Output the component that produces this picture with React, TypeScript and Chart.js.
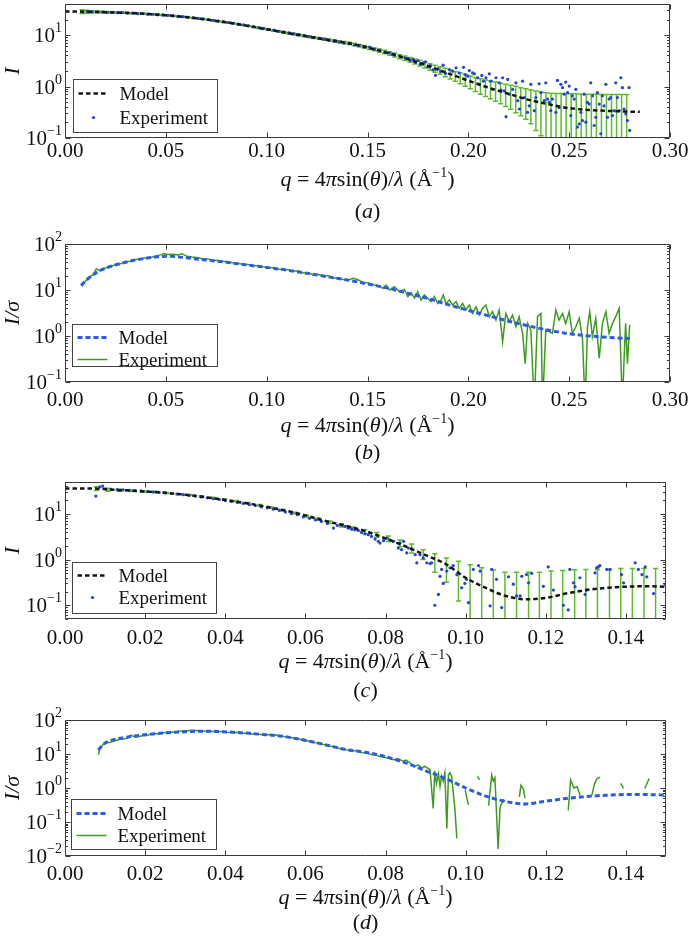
import React, { useEffect, useRef } from 'react';
import { Chart, registerables } from 'chart.js';

Chart.register(...registerables);

const FONT = "'Liberation Serif', 'Times New Roman', serif";
const DOT_BLUE = '#2444d2';
const DASH_BLUE = '#2a5ddf';
const ERR_GREEN = '#5cbb2e';
const LINE_GREEN = '#3d9b1e';
const BLACK = '#151515';

// ---------- tick values ----------
const xTicksAB = [0, 0.05, 0.1, 0.15, 0.2, 0.25, 0.3];
const xTicksCD = [0, 0.02, 0.04, 0.06, 0.08, 0.1, 0.12, 0.14];
const yDecadesA = [0.1, 1, 10];
const yDecadesB = [0.1, 1, 10, 100];
const yDecadesC = [0.1, 1, 10];
const yDecadesD = [0.01, 0.1, 1, 10, 100];

// ---------- panel (a): intensity ----------
const qModelA = [0, 0.008, 0.02, 0.03, 0.04, 0.05, 0.06, 0.07, 0.08, 0.09, 0.1, 0.11, 0.12, 0.13, 0.14, 0.15, 0.16, 0.17, 0.18, 0.19, 0.2, 0.21, 0.22, 0.23, 0.24, 0.25, 0.26, 0.27, 0.28, 0.285];
const iModelA = [28.6, 28.5, 27.8, 27.0, 25.8, 24.2, 22.3, 20.0, 17.6, 15.2, 12.9, 11.0, 9.4, 8.1, 7.0, 5.7, 4.5, 3.4, 2.5, 1.8, 1.3, 0.95, 0.72, 0.55, 0.45, 0.38, 0.35, 0.335, 0.325, 0.322];

const qExpA = [
  0.0085, 0.011, 0.0135, 0.016, 0.0185, 0.021, 0.0235, 0.026, 0.0285, 0.031,
  0.0335, 0.036, 0.0385, 0.041, 0.0435, 0.046, 0.0485, 0.051, 0.0535, 0.056,
  0.0585, 0.061, 0.0635, 0.066, 0.0685, 0.071, 0.0735, 0.076, 0.0785, 0.081,
  0.0835, 0.086, 0.0885, 0.091, 0.0935, 0.096, 0.0985, 0.101, 0.1035, 0.106,
  0.1085, 0.111, 0.1135, 0.116, 0.1185, 0.121, 0.1235, 0.126, 0.1285, 0.131,
  0.1335, 0.136, 0.1385, 0.141, 0.1435, 0.146, 0.1485, 0.151, 0.1535, 0.156,
  0.1585, 0.161, 0.1635, 0.166, 0.1685,
  0.17, 0.1712, 0.1725, 0.1737, 0.175, 0.1762, 0.1775, 0.1787, 0.18, 0.1812,
  0.1825, 0.1837, 0.185, 0.1862, 0.1875, 0.1887, 0.1906, 0.1922, 0.1939, 0.1955,
  0.1976, 0.1984, 0.1997, 0.2005, 0.2021, 0.203, 0.2046, 0.2054, 0.2067, 0.2075,
  0.2087, 0.2104, 0.2112, 0.212, 0.2137, 0.2153, 0.2162, 0.217, 0.2178, 0.2187,
  0.2195, 0.2203, 0.222, 0.2236, 0.2245, 0.2253, 0.2269, 0.2277, 0.2294, 0.2302,
  0.231, 0.2327, 0.2335, 0.2351, 0.236, 0.2376, 0.2384, 0.2393, 0.2401, 0.2409,
  0.2417, 0.2434, 0.2442, 0.245, 0.2459, 0.2467, 0.2475, 0.2483, 0.2492, 0.25,
  0.2508, 0.2516, 0.2525, 0.2533, 0.2541, 0.255, 0.2558, 0.2566, 0.2574, 0.2583,
  0.2591, 0.2599, 0.2607, 0.2616, 0.2624, 0.2632, 0.264, 0.2649, 0.2657, 0.2665,
  0.2673, 0.2682, 0.269, 0.2698, 0.2706, 0.2715, 0.2723, 0.2731, 0.2739, 0.2748,
  0.2756, 0.2764, 0.2772, 0.2781, 0.2789, 0.2797, 0.28,
];
const iExpA = [
  28.0, 28.8, 28.2, 28.0, 27.9, 27.4, 27.6, 27.1, 27.3, 26.6,
  26.5, 26.0, 26.1, 25.4, 25.3, 24.6, 24.5, 24.0, 23.6, 23.0,
  22.7, 22.1, 21.6, 21.0, 20.6, 19.9, 19.3, 18.7, 18.2, 17.5,
  16.9, 16.3, 15.8, 15.1, 14.6, 14.0, 13.5, 12.9, 12.5, 11.9,
  11.5, 11.0, 10.6, 10.2, 9.8, 9.3, 9.0, 8.6, 8.3, 7.9,
  7.6, 7.3, 7.0, 6.8, 6.4, 6.3, 5.9, 5.8, 5.3, 5.1,
  4.6, 4.5, 4.1, 3.9, 3.6,
  3.5, 3.2, 3.4, 2.95, 3.2, 2.7, 2.85, 3.0, 2.4, 2.55,
  2.1, 1.65, 2.2, 1.95, 2.6, 1.8, 2.13, 1.98, 2.3, 1.84,
  2.36, 1.71, 1.59, 2.04, 1.84, 1.76, 1.48, 1.1, 1.64, 1.27,
  1.48, 1.76, 1.27, 0.88, 1.48, 1.18, 0.85, 1.48, 0.82, 0.26,
  1.37, 0.71, 0.88, 1.18, 0.53, 0.366, 1.27, 0.61, 0.315, 0.42,
  1.1, 0.34, 0.61, 1.13, 0.76, 0.53, 1.18, 0.57, 0.49, 0.34,
  0.57, 0.315, 1.31, 0.39, 1.1, 0.95, 0.71, 1.22, 0.76, 1.02,
  0.272, 0.66, 0.57, 0.88, 0.163, 0.188, 0.315, 0.218, 0.71, 0.203,
  0.49, 0.455, 1.18, 0.66, 0.175, 0.253, 0.76, 0.455, 0.121, 0.66,
  0.42, 1.1, 0.253, 0.57, 0.61, 0.272, 0.34, 1.18, 0.61, 0.34,
  1.48, 0.95, 0.366, 0.293, 0.218, 0.95, 0.14,
];

const qErrA = [
  0.0085, 0.011, 0.0135, 0.016, 0.0185, 0.021, 0.0235, 0.026, 0.0285, 0.031,
  0.0335, 0.036, 0.0385, 0.041, 0.0435, 0.046, 0.0485, 0.051, 0.0535, 0.056,
  0.0585, 0.061, 0.0635, 0.066, 0.0685, 0.071, 0.0735, 0.076, 0.0785, 0.081,
  0.0835, 0.086, 0.0885, 0.091, 0.0935, 0.096, 0.0985, 0.101, 0.1035, 0.106,
  0.1085, 0.111, 0.1135, 0.116, 0.1185, 0.121, 0.1235, 0.126, 0.1285, 0.131,
  0.1335, 0.136, 0.1385, 0.141, 0.1435, 0.146, 0.1485, 0.151, 0.1535, 0.156,
  0.1585, 0.161, 0.1635, 0.166, 0.1685,
  0.171, 0.1735, 0.176, 0.1785, 0.181, 0.1835, 0.186, 0.1885, 0.191, 0.1935,
  0.196, 0.1985, 0.201, 0.2035, 0.206, 0.2085, 0.211, 0.2135, 0.216, 0.2185,
  0.221, 0.2235, 0.226, 0.2285, 0.231, 0.2335, 0.236, 0.2385, 0.241, 0.2435,
  0.246, 0.2485, 0.251, 0.2535, 0.256, 0.2585, 0.261, 0.2635, 0.266, 0.2685,
  0.271, 0.2735, 0.276, 0.2785,
];
const errLoA = [
  26.2, 26.55, 26.8, 26.9, 26.9, 26.8, 26.7, 26.6, 26.45, 26.3,
  26.0, 25.75, 25.5, 25.15, 24.75, 24.4, 24.0, 23.55, 23.05, 22.6,
  22.2, 21.65, 21.1, 20.55, 19.95, 19.35, 18.75, 18.15, 17.55, 16.95,
  16.35, 15.8, 15.2, 14.6, 14.0, 13.4, 12.85, 12.35, 11.85, 11.35,
  10.9, 10.45, 10.05, 9.65, 9.25, 8.92, 8.58, 8.25, 7.95, 7.65,
  7.35, 7.05, 6.8, 6.52, 6.2, 5.85, 5.55, 5.23, 4.92, 4.62,
  4.33, 4.04, 3.75, 3.45, 3.2,
  2.95, 2.72, 2.5, 2.28, 2.07, 1.89, 1.72, 1.55, 1.4, 1.26,
  1.13, 1.01, 0.9, 0.8, 0.71, 0.64, 0.58, 0.52, 0.46, 0.41,
  0.36, 0.31, 0.27, 0.23, 0.19, 0.14, 0.11, 0.08, 0.05, 0.001,
  0.001, 0.001, 0.001, 0.001, 0.001, 0.001, 0.001, 0.001, 0.001, 0.001,
  0.001, 0.001, 0.001, 0.001,
];
const errHiA = [
  30.8, 30.15, 29.6, 29.2, 28.9, 28.6, 28.3, 28.0, 27.75, 27.5,
  27.2, 26.85, 26.5, 26.15, 25.75, 25.3, 24.9, 24.45, 23.95, 23.5,
  23.0, 22.45, 21.9, 21.35, 20.75, 20.15, 19.55, 18.95, 18.35, 17.75,
  17.15, 16.5, 15.9, 15.3, 14.7, 14.1, 13.55, 13.05, 12.55, 12.05,
  11.6, 11.15, 10.75, 10.35, 9.95, 9.62, 9.28, 8.95, 8.65, 8.35,
  8.05, 7.75, 7.5, 7.22, 6.9, 6.55, 6.25, 5.93, 5.62, 5.32,
  5.03, 4.74, 4.45, 4.15, 3.9,
  3.65, 3.42, 3.2, 2.98, 2.77, 2.59, 2.42, 2.25, 2.1, 1.96,
  1.83, 1.71, 1.6, 1.5, 1.41, 1.34, 1.28, 1.22, 1.16, 1.11,
  1.06, 1.01, 0.95, 0.9, 0.86, 0.82, 0.78, 0.76, 0.74, 0.73,
  0.73, 0.72, 0.72, 0.72, 0.71, 0.71, 0.71, 0.71, 0.7, 0.7,
  0.7, 0.7, 0.7, 0.7,
];

// ---------- panel (b): I / sigma ----------
const qModelB = [0.008, 0.01, 0.015, 0.02, 0.025, 0.03, 0.035, 0.04, 0.045, 0.05, 0.055, 0.06, 0.07, 0.08, 0.09, 0.1, 0.11, 0.12, 0.13, 0.14, 0.15, 0.16, 0.17, 0.18, 0.19, 0.2, 0.21, 0.22, 0.23, 0.24, 0.25, 0.26, 0.27, 0.28];
const vModelB = [12.5, 15.5, 23, 29.5, 35, 40, 45, 49, 52, 54, 53, 50, 45, 40, 35, 31, 27, 23, 19.5, 16.5, 13.5, 11.0, 8.5, 6.5, 4.8, 3.6, 2.75, 2.1, 1.65, 1.33, 1.12, 1.0, 0.93, 0.88];

const qExpB = [
  0.0085, 0.0095, 0.011, 0.0125, 0.014, 0.0155, 0.017, 0.0185, 0.02,
  0.0225, 0.025, 0.0275, 0.03, 0.0325, 0.035, 0.0375, 0.04, 0.0425, 0.045,
  0.0475, 0.049, 0.051, 0.0535, 0.056, 0.058, 0.0605, 0.063, 0.0655, 0.068,
  0.0705, 0.073, 0.0755, 0.078, 0.0805, 0.083, 0.0855, 0.088, 0.0905, 0.093,
  0.0955, 0.098, 0.1005, 0.103, 0.1055, 0.108, 0.1105, 0.113, 0.1155, 0.118,
  0.1205, 0.123, 0.1255, 0.128, 0.1305, 0.133, 0.1355, 0.138, 0.1405, 0.143,
  0.1455, 0.148, 0.1505, 0.153,
  0.1559, 0.1576, 0.1592, 0.1609, 0.1634, 0.1658, 0.1683, 0.17, 0.1716, 0.1733,
  0.1749, 0.1766, 0.1782, 0.1799, 0.1815, 0.1832, 0.1848, 0.1865, 0.1876, 0.1889,
  0.1906, 0.1922, 0.1939, 0.1955, 0.1972, 0.1988, 0.2005, 0.2021, 0.2038, 0.2054,
  0.2071, 0.2087, 0.2104, 0.212, 0.2137, 0.2153, 0.217, 0.2186, 0.2203, 0.2219,
  0.2236, 0.2252, 0.2269, 0.2282, 0.2294, 0.231, 0.2327, 0.2343, 0.236, 0.2368,
  0.2384, 0.2401, 0.2417, 0.2434, 0.245, 0.2467, 0.2483, 0.25, 0.2516, 0.2533,
  0.255, 0.2566, 0.2579, 0.2591, 0.2602, 0.2615, 0.2632, 0.2649, 0.2665, 0.2682,
  0.2698, 0.2715, 0.2731, 0.2748, 0.2764, 0.2772, 0.278, 0.2789, 0.28,
];
const vExpB = [
  12.0, 14.5, 17.0, 19.5, 21.5, 29, 26.5, 29, 30,
  32.5, 35.5, 37, 41, 42, 46, 47, 50, 51, 55,
  58, 62, 59, 60, 58, 61, 54, 52, 51, 48,
  47, 45, 44, 42, 41, 39, 38, 36.5, 36, 34,
  33.5, 32, 31, 30.5, 28.5, 28, 27.5, 25.5, 26, 23.5,
  24, 21.5, 22, 20, 20.5, 18, 18.5, 17, 16.5, 18,
  16.5, 14.5, 14.2, 13.0,
  12.2, 10.9, 12.8, 10.0, 11.8, 9.2, 10.3, 7.2, 8.7, 6.6,
  9.2, 6.05, 7.8, 6.6, 5.6, 7.2, 5.1, 6.05, 7.8, 4.96,
  6.05, 4.7, 5.6, 4.0, 5.1, 3.67, 4.7, 3.1, 4.3, 2.86,
  4.0, 4.7, 2.63, 3.38, 2.22, 3.67, 0.75, 3.1, 2.05, 2.86,
  1.59, 2.63, 1.14, 0.25, 1.88, 1.35, 0.03, 2.63, 3.1, 0.03,
  1.35, 1.24, 1.14, 3.67, 2.22, 3.1, 1.88, 3.38, 1.14, 1.59,
  2.42, 0.89, 0.03, 1.59, 3.38, 0.97, 2.42, 0.33, 1.88, 3.38,
  1.14, 1.88, 2.63, 4.0, 0.03, 0.3, 1.88, 0.25, 1.73,
];

// ---------- panel (c): intensity ----------
const qModelC = [0, 0.008, 0.012, 0.016, 0.02, 0.025, 0.03, 0.035, 0.04, 0.045, 0.05, 0.055, 0.06, 0.065, 0.07, 0.075, 0.08, 0.085, 0.09, 0.095, 0.1, 0.105, 0.11, 0.115, 0.12, 0.125, 0.13, 0.135, 0.14, 0.145, 0.15];
const iModelC = [36, 35.8, 34, 32.5, 31.0, 29, 26.3, 23.3, 20.2, 17.3, 14.5, 11.8, 9.3, 7.0, 5.5, 4.2, 2.9, 1.95, 1.25, 0.8, 0.4, 0.24, 0.16, 0.135, 0.145, 0.18, 0.215, 0.24, 0.255, 0.26, 0.255];

const qExpC = [
  0.0077, 0.0087, 0.0094, 0.0102, 0.0115, 0.013, 0.0145, 0.016, 0.0175, 0.019,
  0.0205, 0.022, 0.0235, 0.025, 0.0265, 0.028, 0.0295, 0.031, 0.0325, 0.034,
  0.0355, 0.037, 0.0385, 0.04, 0.0415, 0.043, 0.0445, 0.046, 0.0475, 0.049,
  0.0505, 0.052, 0.0535, 0.055, 0.0565, 0.058, 0.0595, 0.061, 0.0625, 0.064,
  0.0655, 0.067, 0.068,
  0.0691, 0.0699, 0.0707, 0.0715, 0.0724, 0.0732, 0.074, 0.0749, 0.0757, 0.0765,
  0.0774, 0.0782, 0.0786, 0.0795, 0.0803, 0.0811, 0.082, 0.0832, 0.0836, 0.084,
  0.0845, 0.0853, 0.0857, 0.0865, 0.0874, 0.0878, 0.0886, 0.0894, 0.0903, 0.0911,
  0.0915, 0.0923, 0.0932, 0.0936, 0.094, 0.0944, 0.0953, 0.0961, 0.0969, 0.0978,
  0.099, 0.0998, 0.1002, 0.1007, 0.1019, 0.1032, 0.1036, 0.1061, 0.1065, 0.1077,
  0.109, 0.1107, 0.1119, 0.1127, 0.1136, 0.114, 0.1152, 0.1157, 0.1165, 0.1194,
  0.1206, 0.1219, 0.1244, 0.1256, 0.126, 0.1269, 0.1273, 0.1285, 0.1298, 0.1302,
  0.1323, 0.1327, 0.1331, 0.1335, 0.1352, 0.136, 0.1389, 0.1394, 0.1423, 0.1431,
  0.144, 0.1448, 0.1452, 0.1469, 0.1498,
];
const iExpC = [
  24.6, 39.0, 40.8, 35.0, 34.5, 34.0, 33.6, 33.0, 32.4, 32.0,
  31.0, 30.5, 29.6, 29.0, 28.0, 27.3, 26.4, 25.6, 24.5, 23.5,
  22.6, 21.5, 20.8, 19.6, 18.8, 17.8, 17.0, 15.9, 15.2, 14.2,
  13.6, 12.7, 11.9, 11.0, 10.2, 9.6, 8.6, 8.0, 7.4, 6.8,
  6.2, 4.9, 5.6,
  5.77, 5.31, 4.88, 4.72, 4.49, 4.34, 3.93, 3.67, 3.5, 3.22,
  2.81, 2.51, 2.3, 2.59, 2.96, 2.72, 2.51, 1.79, 2.3, 1.65,
  2.51, 1.4, 1.79, 1.71, 1.28, 0.85, 1.28, 1.09, 0.85, 0.82,
  0.85, 0.1, 0.173, 0.43, 0.61, 0.3, 0.56, 0.66, 0.74, 0.47,
  0.242, 0.3, 0.37, 0.114, 0.61, 0.74, 0.56, 0.097, 0.61, 0.37,
  0.089, 0.42, 0.29, 0.16, 0.16, 0.43, 0.47, 0.31, 0.5, 0.26,
  0.69, 0.215, 0.1, 0.079, 0.61, 0.31, 0.255, 0.4, 0.173, 0.215,
  0.51, 0.66, 0.69, 0.74, 0.61, 0.61, 0.47, 0.31, 0.85, 0.61,
  0.47, 0.69, 0.42, 0.18, 0.29,
];

const qErrC = [
  0.0078, 0.0107, 0.0136, 0.0165, 0.0194, 0.0224, 0.0253, 0.0282, 0.0311, 0.034,
  0.0369, 0.0398, 0.0428, 0.0457, 0.0486, 0.0515, 0.0544, 0.0573, 0.0603, 0.0632,
  0.0661, 0.069, 0.0719, 0.0748, 0.0778, 0.0807, 0.0836, 0.0865, 0.0894, 0.0923,
  0.0952, 0.0982, 0.1011, 0.104, 0.1069, 0.1098, 0.1127, 0.1157, 0.1184, 0.1213,
  0.1242, 0.1272, 0.13, 0.1329, 0.1359, 0.1387, 0.1416, 0.1445, 0.1474,
];
const errLoC = [
  32.5, 31.5, 31.2, 30.8, 30.0, 29.0, 28.0, 26.6, 25.2, 23.7,
  22.0, 20.3, 18.6, 16.8, 15.0, 13.3, 11.7, 10.1, 8.6, 7.3,
  6.2, 5.2, 4.4, 3.7, 3.1, 2.5, 1.9, 1.4, 1.0, 0.53,
  0.32, 0.124, 0.02, 0.001, 0.001, 0.001, 0.001, 0.001, 0.001, 0.001,
  0.001, 0.001, 0.001, 0.001, 0.001, 0.001, 0.001, 0.001, 0.001,
];
const errHiC = [
  39.5, 36.5, 34.6, 33.4, 32.2, 30.8, 29.6, 28.0, 26.6, 25.0,
  23.2, 21.4, 19.6, 17.8, 16.0, 14.2, 12.5, 10.9, 9.4, 8.1,
  7.0, 6.0, 5.2, 4.5, 3.9, 3.3, 2.7, 2.2, 1.65, 1.35,
  1.09, 0.92, 0.77, 0.66, 0.59, 0.53, 0.53, 0.53, 0.53, 0.56,
  0.58, 0.6, 0.61, 0.61, 0.61, 0.64, 0.64, 0.64, 0.64,
];

// ---------- panel (d): I / sigma ----------
const qModelD = [0.0083, 0.0095, 0.011, 0.013, 0.016, 0.02, 0.025, 0.03, 0.034, 0.038, 0.042, 0.046, 0.05, 0.054, 0.058, 0.062, 0.066, 0.07, 0.075, 0.08, 0.085, 0.09, 0.095, 0.1, 0.105, 0.11, 0.115, 0.12, 0.125, 0.13, 0.135, 0.14, 0.145, 0.15];
const vModelD = [13, 19, 24, 28, 32, 37, 42, 45, 47, 46, 43.5, 40.5, 37, 33.5, 28, 22.5, 17.5, 13.5, 11.2, 8.3, 5.5, 3.2, 1.9, 1.0, 0.58, 0.4, 0.34, 0.41, 0.49, 0.56, 0.61, 0.64, 0.64, 0.62];

const qExpD = [
  0.0083, 0.0087, 0.0095, 0.0105, 0.0115, 0.0125, 0.0135, 0.0145, 0.0155, 0.0165,
  0.0175, 0.0185, 0.0195, 0.0205, 0.0215, 0.0225, 0.0235, 0.0245, 0.0255, 0.0265,
  0.0275, 0.0285, 0.0295, 0.0305, 0.0315, 0.0325, 0.0335, 0.0345, 0.0355, 0.0365,
  0.0375, 0.0385, 0.0395, 0.0405, 0.0415, 0.0425, 0.0435, 0.0445, 0.0455, 0.0465,
  0.0475, 0.0485, 0.0495, 0.0505, 0.0515, 0.0525, 0.0535, 0.0545, 0.0555, 0.0565,
  0.0575, 0.0585, 0.0595, 0.0605, 0.0615, 0.0625, 0.0635, 0.0645, 0.0655, 0.0665,
  0.0675, 0.0685, 0.0695, 0.0705, 0.0715, 0.0725, 0.0735, 0.0745, 0.0755, 0.0765,
  0.0775,
  0.0786, 0.0799, 0.0807, 0.0819, 0.0832, 0.0844, 0.0852, 0.0865, 0.0873, 0.0882,
  0.089, 0.0898, 0.0911, 0.0919, 0.0923, 0.0927, 0.0932, 0.0936, 0.094, 0.0944,
  0.0948, 0.0953, 0.0957, 0.0961, 0.0965, 0.0973, 0.0978, 0.0988, 0.0999, 0.1003,
  0.1007, 0.1018, 0.1029, 0.1035, 0.1046, 0.1057, 0.1065, 0.1069, 0.1073, 0.1081,
  0.1086, 0.1094, 0.1098, 0.1115, 0.1134, 0.1138, 0.1144, 0.1148, 0.12, 0.1256,
  0.1262, 0.127, 0.1278, 0.1286, 0.13, 0.1315, 0.1322, 0.1328, 0.1335, 0.136,
  0.1387, 0.1394, 0.142, 0.1447, 0.1458,
];
const vExpD: (number | null)[] = [
  9.5, 14, 19, 21.5, 22.5, 24.5, 26.5, 27.5, 29, 36,
  31, 32.5, 35, 35, 39, 40, 39, 42, 43, 43.5,
  44, 47, 48, 47.5, 50, 49, 48, 47.5, 46, 47,
  45.5, 45, 46.5, 44, 43, 43.5, 42, 41, 41.5, 39,
  39.5, 38, 37, 37.5, 36, 37, 34, 33, 31, 30.5,
  28, 27.5, 25, 24.5, 23, 21.5, 21, 19, 18.5, 16.5,
  16, 14.5, 14.2, 13, 12.5, 12.5, 11.5, 10.8, 10.5, 9.6,
  9.4,
  8.4, 7.9, 7.6, 6.8, 7.2, 6.1, 6.6, 5.0, 4.3, 4.8,
  3.9, 4.3, 3.5, 0.25, 3.2, 1.35, 2.6, 1.1, 2.2, 1.6,
  2.8, 0.065, 2.4, 2.8, 2.2, 0.25, 0.033, null, 0.87, 0.5,
  0.32, null, 2.2, 1.75, null, 0.3, 2.4, 1.6, 2.0, 0.016,
  0.28, 0.44, 0.4, null, 0.55, 1.2, 0.95, 0.5, null, 0.22,
  1.72, 1.0, 1.1, 0.6, null, 0.62, 1.37, 1.9, 2.1, null,
  1.37, 0.97, null, 0.97, 1.9,
];

// ---------- helpers ----------
const xy = (xs: number[], ys: (number | null)[]) => xs.map((x, i) => ({ x, y: ys[i] }));

type Seg = { t: string; it?: boolean; sup?: boolean };
const xTitle: Seg[] = [
  { t: 'q', it: true }, { t: ' = 4' }, { t: 'π', it: true }, { t: 'sin(' }, { t: 'θ', it: true },
  { t: ')/' }, { t: 'λ', it: true }, { t: ' (Å' }, { t: '−1', sup: true }, { t: ')' },
];

function drawSegs(ctx: CanvasRenderingContext2D, segs: Seg[], cx: number, baseline: number, size: number) {
  const supSize = Math.round(size * 0.62);
  const fontOf = (s: Seg) => `${s.it ? 'italic ' : ''}${s.sup ? supSize : size}px ${FONT}`;
  let total = 0;
  const widths = segs.map((s) => {
    ctx.font = fontOf(s);
    const w = ctx.measureText(s.t).width;
    total += w;
    return w;
  });
  let x = cx - total / 2;
  ctx.textAlign = 'left';
  ctx.textBaseline = 'alphabetic';
  segs.forEach((s, i) => {
    ctx.font = fontOf(s);
    ctx.fillText(s.t, x, s.sup ? baseline - size * 0.42 : baseline);
    x += widths[i];
  });
}

interface LegendItem { label: string; kind: 'line' | 'dot'; color: string; width?: number; dash?: number[] }
interface Panel {
  id: string;
  top: number;
  height: number;
  area: { top: number; bottom: number; right: number };
  xMax: number;
  xTicks: number[];
  yMin: number;
  yMax: number;
  yDecades: number[];
  yTitle: Seg[];
  caption: Seg[];
  tickDy: number;
  titleDy: number;
  captionDy: number;
  legendBox: { x: number; y: number; w: number; h: number; r1: number; r2: number };
  legendItems: LegendItem[];
  datasets: any[];
  err?: { q: number[]; lo: number[]; hi: number[] };
}

const modelLine = (data: any[], color: string, width: number, dash: number[]) => ({
  label: 'Model',
  data,
  showLine: true,
  borderColor: color,
  borderWidth: width,
  borderDash: dash,
  pointRadius: 0,
  cubicInterpolationMode: 'monotone',
  fill: false,
});
const expDots = (data: any[]) => ({
  label: 'Experiment',
  data,
  showLine: false,
  pointRadius: 1.6,
  pointBorderWidth: 0,
  pointBackgroundColor: DOT_BLUE,
  borderColor: DOT_BLUE,
  backgroundColor: DOT_BLUE,
});
const expLine = (data: any[]) => ({
  label: 'Experiment',
  data,
  showLine: true,
  borderColor: LINE_GREEN,
  borderWidth: 1.5,
  pointRadius: 0,
  tension: 0,
  spanGaps: false,
  fill: false,
});

const BLACK_DASH = [4.5, 3];
const BLUE_DASH = [5, 3];

const PANELS: Panel[] = [
  {
    id: 'a', top: 0, height: 230, area: { top: 2, bottom: 138, right: 670 },
    xMax: 0.3, xTicks: xTicksAB, yMin: 0.1, yMax: 40, yDecades: yDecadesA,
    yTitle: [{ t: 'I', it: true }], caption: [{ t: '(' }, { t: 'a', it: true }, { t: ')' }],
    tickDy: 12, titleDy: 48, captionDy: 80,
    legendBox: { x: 73, y: 79, w: 144, h: 53, r1: 14, r2: 38 },
    legendItems: [
      { label: 'Model', kind: 'line', color: BLACK, width: 2.5, dash: BLACK_DASH },
      { label: 'Experiment', kind: 'dot', color: DOT_BLUE },
    ],
    datasets: [modelLine(xy(qModelA, iModelA), BLACK, 2.5, BLACK_DASH), expDots(xy(qExpA, iExpA))],
    err: { q: qErrA, lo: errLoA, hi: errHiA },
  },
  {
    id: 'b', top: 230, height: 235, area: { top: 244, bottom: 382, right: 670 },
    xMax: 0.3, xTicks: xTicksAB, yMin: 0.1, yMax: 100, yDecades: yDecadesB,
    yTitle: [{ t: 'I/σ', it: true }], caption: [{ t: '(' }, { t: 'b', it: true }, { t: ')' }],
    tickDy: 17, titleDy: 50, captionDy: 77,
    legendBox: { x: 72, y: 324, w: 145, h: 42, r1: 13, r2: 35 },
    legendItems: [
      { label: 'Model', kind: 'line', color: DASH_BLUE, width: 3, dash: BLUE_DASH },
      { label: 'Experiment', kind: 'line', color: LINE_GREEN, width: 1.5 },
    ],
    datasets: [modelLine(xy(qModelB, vModelB), DASH_BLUE, 3, BLUE_DASH), expLine(xy(qExpB, vExpB))],
  },
  {
    id: 'c', top: 465, height: 240, area: { top: 482, bottom: 619, right: 666 },
    xMax: 0.15, xTicks: xTicksCD, yMin: 0.05, yMax: 50, yDecades: yDecadesC,
    yTitle: [{ t: 'I', it: true }], caption: [{ t: '(' }, { t: 'c', it: true }, { t: ')' }],
    tickDy: 18, titleDy: 49, captionDy: 78,
    legendBox: { x: 72, y: 562, w: 144, h: 51, r1: 13, r2: 35 },
    legendItems: [
      { label: 'Model', kind: 'line', color: BLACK, width: 2.5, dash: BLACK_DASH },
      { label: 'Experiment', kind: 'dot', color: DOT_BLUE },
    ],
    datasets: [modelLine(xy(qModelC, iModelC), BLACK, 2.5, BLACK_DASH), expDots(xy(qExpC, iExpC))],
    err: { q: qErrC, lo: errLoC, hi: errHiC },
  },
  {
    id: 'd', top: 705, height: 238, area: { top: 720, bottom: 856, right: 666 },
    xMax: 0.15, xTicks: xTicksCD, yMin: 0.01, yMax: 100, yDecades: yDecadesD,
    yTitle: [{ t: 'I/σ', it: true }], caption: [{ t: '(' }, { t: 'd', it: true }, { t: ')' }],
    tickDy: 17, titleDy: 48, captionDy: 73,
    legendBox: { x: 71, y: 799, w: 145, h: 50, r1: 14, r2: 36 },
    legendItems: [
      { label: 'Model', kind: 'line', color: DASH_BLUE, width: 3, dash: BLUE_DASH },
      { label: 'Experiment', kind: 'line', color: LINE_GREEN, width: 1.5 },
    ],
    datasets: [modelLine(xy(qModelD, vModelD), DASH_BLUE, 3, BLUE_DASH), expLine(xy(qExpD, vExpD))],
  },
];

const supDigits = (n: number) => (n < 0 ? '−' + String(-n) : String(n));

function decorPlugin(p: Panel) {
  return {
    id: 'decor_' + p.id,
    beforeDatasetsDraw(chart: any) {
      if (!p.err) return;
      const { ctx, chartArea: a, scales } = chart;
      const xs = scales.x;
      const ys = scales.y;
      ctx.save();
      ctx.beginPath();
      ctx.rect(a.left, a.top, a.right - a.left, a.bottom - a.top);
      ctx.clip();
      ctx.strokeStyle = ERR_GREEN;
      ctx.lineWidth = 1.5;
      ctx.beginPath();
      p.err.q.forEach((q, i) => {
        const x = xs.getPixelForValue(q);
        const yl = ys.getPixelForValue(p.err!.lo[i]);
        const yh = ys.getPixelForValue(p.err!.hi[i]);
        ctx.moveTo(x, yl);
        ctx.lineTo(x, yh);
        ctx.moveTo(x - 2.6, yh);
        ctx.lineTo(x + 2.6, yh);
        ctx.moveTo(x - 2.6, yl);
        ctx.lineTo(x + 2.6, yl);
      });
      ctx.stroke();
      ctx.restore();
    },
    afterDatasetsDraw(chart: any) {
      const { ctx, chartArea: a, scales } = chart;
      const xs = scales.x;
      const ys = scales.y;
      const L = Math.round(a.left) + 0.5;
      const R = Math.round(a.right) - 0.5;
      const T = Math.round(a.top) + 0.5;
      const B = Math.round(a.bottom) - 0.5;
      ctx.save();
      ctx.strokeStyle = '#3a3a3a';
      ctx.lineWidth = 1;
      ctx.beginPath();
      ctx.rect(L, T, R - L, B - T);
      // x ticks, inward on bottom and top
      p.xTicks.forEach((v) => {
        const x = Math.round(xs.getPixelForValue(v)) + 0.5;
        ctx.moveTo(x, B);
        ctx.lineTo(x, B - 5);
        ctx.moveTo(x, T);
        ctx.lineTo(x, T + 5);
      });
      // y ticks (major + minor), inward on left and right
      const k0 = Math.floor(Math.log10(p.yMin));
      const k1 = Math.ceil(Math.log10(p.yMax));
      for (let k = k0; k <= k1; k++) {
        for (let m = 1; m <= 9; m++) {
          const v = m * Math.pow(10, k);
          if (v < p.yMin * 0.999 || v > p.yMax * 1.001) continue;
          const y = Math.round(ys.getPixelForValue(v)) + 0.5;
          const len = m === 1 ? 5 : 2.5;
          ctx.moveTo(L, y);
          ctx.lineTo(L + len, y);
          ctx.moveTo(R, y);
          ctx.lineTo(R - len, y);
        }
      }
      ctx.stroke();
      ctx.restore();
    },
    afterDraw(chart: any) {
      const { ctx, chartArea: a, scales } = chart;
      const xs = scales.x;
      const ys = scales.y;
      ctx.save();
      ctx.fillStyle = '#111';
      // x tick labels
      ctx.font = `21px ${FONT}`;
      ctx.textAlign = 'center';
      ctx.textBaseline = 'alphabetic';
      p.xTicks.forEach((v) => {
        ctx.fillText(v.toFixed(2), xs.getPixelForValue(v), a.bottom + p.tickDy + 7);
      });
      // y tick labels 10^k
      p.yDecades.forEach((v) => {
        const e = Math.round(Math.log10(v));
        const y = ys.getPixelForValue(v);
        const sup = supDigits(e);
        ctx.font = `14px ${FONT}`;
        const wSup = ctx.measureText(sup).width;
        ctx.font = `21px ${FONT}`;
        const wBase = ctx.measureText('10').width;
        const right = a.left - 3;
        ctx.textAlign = 'left';
        ctx.fillText('10', right - wSup - wBase, y + 7);
        ctx.font = `14px ${FONT}`;
        ctx.fillText(sup, right - wSup, y - 3);
      });
      // axis titles
      drawSegs(ctx, xTitle, (a.left + a.right) / 2, a.bottom + p.titleDy, 22);
      ctx.save();
      ctx.translate(12, (a.top + a.bottom) / 2);
      ctx.rotate(-Math.PI / 2);
      drawSegs(ctx, p.yTitle, 0, 7, 22);
      ctx.restore();
      // caption
      drawSegs(ctx, p.caption, (a.left + a.right) / 2, a.bottom + p.captionDy, 22);
      // legend
      const lb = p.legendBox;
      const bx = lb.x + 0.5;
      const by = lb.y - p.top + 0.5;
      ctx.fillStyle = '#ffffff';
      ctx.fillRect(bx, by, lb.w, lb.h);
      ctx.strokeStyle = '#444';
      ctx.lineWidth = 1;
      ctx.strokeRect(bx, by, lb.w, lb.h);
      p.legendItems.forEach((it, i) => {
        const ry = by + (i === 0 ? lb.r1 : lb.r2);
        if (it.kind === 'line') {
          ctx.save();
          ctx.strokeStyle = it.color;
          ctx.lineWidth = it.width || 1.5;
          ctx.setLineDash(it.dash || []);
          ctx.beginPath();
          ctx.moveTo(bx + 5, ry);
          ctx.lineTo(bx + 35, ry);
          ctx.stroke();
          ctx.restore();
        } else {
          ctx.fillStyle = it.color;
          ctx.beginPath();
          ctx.arc(bx + 20, ry, 1.6, 0, Math.PI * 2);
          ctx.fill();
        }
        ctx.fillStyle = '#111';
        ctx.font = `19px ${FONT}`;
        ctx.textAlign = 'left';
        ctx.textBaseline = 'alphabetic';
        ctx.fillText(it.label, bx + 46, ry + 6.5);
      });
      ctx.restore();
    },
  };
}

function buildConfig(p: Panel): any {
  return {
    type: 'line',
    data: { datasets: p.datasets },
    options: {
      animation: false,
      responsive: false,
      maintainAspectRatio: false,
      devicePixelRatio: 1,
      events: [],
      layout: {
        padding: {
          left: 65,
          right: 689 - p.area.right,
          top: p.area.top - p.top,
          bottom: p.top + p.height - p.area.bottom,
        },
      },
      scales: {
        x: { type: 'linear', min: 0, max: p.xMax, display: false },
        y: { type: 'logarithmic', min: p.yMin, max: p.yMax, display: false },
      },
      plugins: {
        legend: { display: false },
        tooltip: { enabled: false },
        title: { display: false },
      },
    },
    plugins: [decorPlugin(p)],
  };
}

function PanelChart({ p }: { p: Panel }) {
  const ref = useRef<HTMLCanvasElement>(null);
  useEffect(() => {
    if (!ref.current) return;
    const chart = new Chart(ref.current, buildConfig(p));
    return () => chart.destroy();
  }, [p]);
  return (
    <canvas
      ref={ref}
      width={689}
      height={p.height}
      style={{ position: 'absolute', left: 0, top: p.top, width: 689, height: p.height, display: 'block' }}
    />
  );
}

export default function App() {
  return (
    <div style={{ position: 'absolute', left: 0, top: 0, width: 689, height: 943, background: '#ffffff', overflow: 'hidden' }}>
      {PANELS.map((p) => (
        <PanelChart key={p.id} p={p} />
      ))}
    </div>
  );
}
